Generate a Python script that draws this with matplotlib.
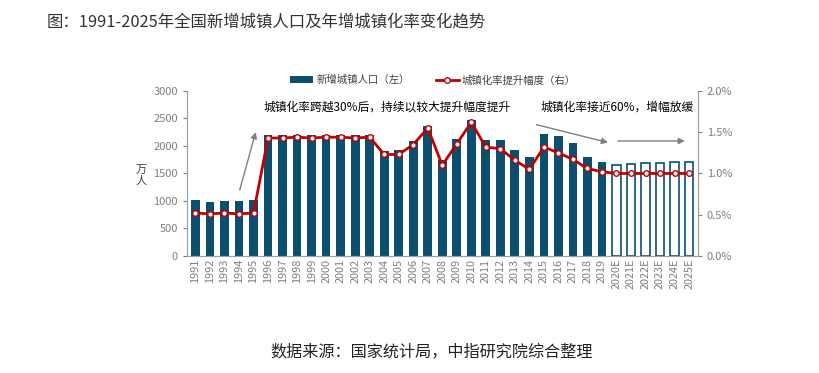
import matplotlib
matplotlib.use("Agg")
from matplotlib import pyplot as plt
import numpy as np

plt.rcParams['font.family'] = ['Noto Sans CJK SC', 'DejaVu Sans']

years = [str(y) for y in range(1991, 2020)] + ['%dE' % y for y in range(2020, 2026)]

# new urban population, 10k people (left axis)
new_urban = [1010, 975, 1000, 1000, 1010,
             2200, 2200, 2200, 2200, 2200, 2200, 2200, 2200,
             1915, 1935, 2090, 2360, 1750, 2120, 2470,
             2105, 2105, 1935, 1800, 2210, 2190, 2055, 1795, 1710,
             1660, 1675, 1685, 1690, 1700, 1715]

# urbanization rate increase, % (right axis)
rate_up = [0.52, 0.51, 0.52, 0.51, 0.52,
           1.43, 1.43, 1.44, 1.43, 1.44, 1.44, 1.43, 1.44,
           1.23, 1.23, 1.35, 1.55, 1.10, 1.36, 1.62,
           1.32, 1.30, 1.16, 1.05, 1.32, 1.25, 1.17, 1.06, 1.02,
           1.00, 1.00, 1.00, 1.00, 1.00, 1.00]

n_actual = 29
bar_col = '#0c4e6e'
line_col = '#c00000'
grey = '#7f7f7f'

fig = plt.figure(figsize=(8.19, 3.73), dpi=100)
ax = fig.add_axes([0.228, 0.314, 0.624, 0.442])
ax2 = ax.twinx()

x = np.arange(len(years))
ax.bar(x[:n_actual], new_urban[:n_actual], width=0.6, color=bar_col,
       label='新增城镇人口（左）')
ax.bar(x[n_actual:], new_urban[n_actual:], width=0.6, facecolor='white',
       edgecolor=bar_col, linewidth=1.2)
ax2.plot(x, rate_up, color=line_col, lw=2, marker='o', ms=4,
         mfc='white', mec=line_col, mew=1, label='城镇化率提升幅度（右）')

ax.set_xlim(-0.6, len(years) - 0.4)
ax.set_ylim(0, 3000)
ax.set_yticks(range(0, 3001, 500))
ax2.set_ylim(0, 2.0)
ax2.set_yticks([0, 0.5, 1.0, 1.5, 2.0])
ax2.set_yticklabels(['0.0%', '0.5%', '1.0%', '1.5%', '2.0%'])
ax.set_xticks(x)
ax.set_xticklabels(years, rotation=90)

for a in (ax, ax2):
    a.spines['top'].set_visible(False)
    for s in ('left', 'right', 'bottom'):
        a.spines[s].set_color('#a0a0a0')
    a.tick_params(colors=grey, labelsize=8, length=3)
ax.tick_params(axis='x', length=0, pad=2, labelsize=7.8)

fig.text(0.172, 0.53, '万\n人', ha='center', va='center', fontsize=8,
         color='#404040', linespacing=1.0)

h1, l1 = ax.get_legend_handles_labels()
h2, l2 = ax2.get_legend_handles_labels()
fig.legend(h1 + h2, l1 + l2, loc='center', bbox_to_anchor=(0.529, 0.785), ncol=2,
           frameon=False, fontsize=7.5, labelcolor='#404040',
           handlelength=2.2, columnspacing=2.5, handletextpad=0.3)

ax.text(4.7, 2650, '城镇化率跨越30%后，持续以较大提升幅度提升', fontsize=8.5, color='black')
ax.text(23.8, 2650, '城镇化率接近60%，增幅放缓', fontsize=8.5, color='black')
arr = dict(arrowstyle='-|>', color=grey, lw=1, mutation_scale=9)
ax.annotate('', xy=(4.2, 2300), xytext=(3.0, 1150), arrowprops=arr)
ax.annotate('', xy=(28.6, 2050), xytext=(23.3, 2400), arrowprops=arr)
ax.annotate('', xy=(33.9, 2090), xytext=(28.9, 2090), arrowprops=arr)

fig.text(0.057, 0.94, '图：1991-2025年全国新增城镇人口及年增城镇化率变化趋势',
         fontsize=11.8, color='#333333', ha='left', va='center')
fig.text(0.527, 0.056, '数据来源：国家统计局，中指研究院综合整理',
         fontsize=11.6, color='#222222', ha='center', va='center')

fig.savefig('out.png', dpi=100)
